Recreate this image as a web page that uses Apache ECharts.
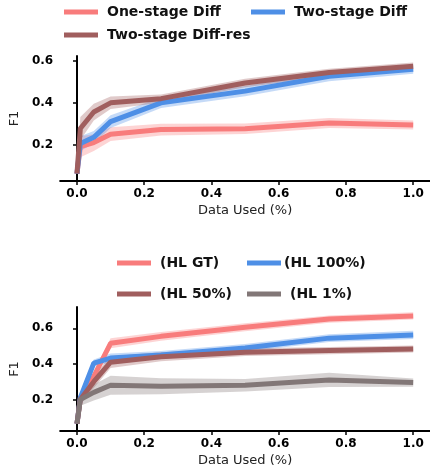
<!DOCTYPE html>
<html><head><meta charset="utf-8">
<script src="https://cdn.jsdelivr.net/npm/echarts@6/dist/echarts.min.js"></script>
<style>html,body{margin:0;padding:0;background:#fff}#c{width:430px;height:468px}</style>
</head><body><div id="c"></div>
<script>
// ---- data ----
const xValues = [0, 0.01, 0.05, 0.1, 0.25, 0.5, 0.75, 1.0];
const xTicks = [0, 0.2, 0.4, 0.6, 0.8, 1.0];
const yTicks = [0.2, 0.4, 0.6];

// top panel
const oneStage     = [0.061, 0.19, 0.21, 0.25, 0.272, 0.276, 0.303, 0.294];
const oneStageErr  = [0.006, 0.05, 0.04, 0.033, 0.028, 0.025, 0.024, 0.022];
const twoStage     = [0.061, 0.205, 0.235, 0.31, 0.40, 0.456, 0.527, 0.561];
const twoStageErr  = [0.006, 0.035, 0.03, 0.03, 0.025, 0.024, 0.024, 0.022];
const diffRes      = [0.061, 0.277, 0.356, 0.40, 0.42, 0.495, 0.545, 0.575];
const diffResErr   = [0.006, 0.055, 0.04, 0.03, 0.02, 0.02, 0.018, 0.018];

// bottom panel
const hlGT     = [0.064, 0.21, 0.33, 0.516, 0.555, 0.606, 0.652, 0.67];
const hlGTErr  = [0.006, 0.025, 0.025, 0.028, 0.025, 0.022, 0.02, 0.02];
const hl100    = [0.064, 0.21, 0.405, 0.433, 0.45, 0.49, 0.545, 0.563];
const hl100Err = [0.006, 0.02, 0.02, 0.025, 0.022, 0.022, 0.022, 0.023];
const hl50     = [0.064, 0.2, 0.30, 0.41, 0.44, 0.466, 0.475, 0.484];
const hl50Err  = [0.006, 0.03, 0.035, 0.033, 0.025, 0.022, 0.02, 0.02];
const hl1      = [0.064, 0.2, 0.24, 0.28, 0.275, 0.28, 0.31, 0.295];
const hl1Err   = [0.006, 0.035, 0.045, 0.053, 0.045, 0.035, 0.04, 0.023];

const RED = '#F87C7C', BLUE = '#4E8FE6', BROWN = '#A05E5E', GRAY = '#827777';
const FONT = 'DejaVu Sans';

function pairs(arr) { return xValues.map((x, i) => [x, arr[i]]); }

function lineWithBand(name, mean, err, color, gi) {
  const bandData = xValues.map((x, i) => [x, mean[i] - err[i], mean[i] + err[i]]);
  return [
    { type: 'custom', name: name + ' band', xAxisIndex: gi, yAxisIndex: gi,
      data: bandData, silent: true, z: 2, animation: false,
      encode: { x: 0, y: [1, 2] },
      renderItem: function (params, api) {
        if (params.dataIndex !== 0) return null;
        const upper = bandData.map(d => api.coord([d[0], d[2]]));
        const lower = bandData.map(d => api.coord([d[0], d[1]])).reverse();
        return { type: 'polygon', shape: { points: upper.concat(lower) },
          style: { fill: color, opacity: 0.33 } };
      } },
    { type: 'line', name: name, xAxisIndex: gi, yAxisIndex: gi, data: pairs(mean),
      symbol: 'none', lineStyle: { color: color, width: 5 }, itemStyle: { color: color },
      z: 3, animation: false }
  ];
}

function xAxis(gi) {
  return { type: 'value', gridIndex: gi, min: -0.05, max: 1.05,
    name: 'Data Used (%)', nameLocation: 'middle', nameGap: 23,
    nameTextStyle: { fontFamily: FONT, fontSize: 13, color: '#222' },
    axisLine: { lineStyle: { color: '#000', width: 2 } },
    axisTick: { show: true, length: 4, lineStyle: { color: '#000', width: 1.5 }, customValues: xTicks },
    axisLabel: { customValues: xTicks, formatter: v => v.toFixed(1), margin: 7,
      fontFamily: FONT, fontWeight: 'bold', fontSize: 12, color: '#000' },
    splitLine: { show: false } };
}
function yAxis(gi, min, max) {
  return { type: 'value', gridIndex: gi, min: min, max: max,
    name: 'F1', nameLocation: 'middle', nameGap: 37, nameRotate: 90,
    nameTextStyle: { fontFamily: FONT, fontSize: 13, color: '#222' },
    axisLine: { show: true, lineStyle: { color: '#000', width: 2 } },
    axisTick: { show: true, length: 4, lineStyle: { color: '#000', width: 1.5 }, customValues: yTicks },
    axisLabel: { customValues: yTicks, formatter: v => v.toFixed(1), margin: 7,
      fontFamily: FONT, fontWeight: 'bold', fontSize: 12, color: '#000' },
    splitLine: { show: false } };
}

function legendItem(name, left, top, textPad) {
  return { data: [name], left: left, top: top, icon: 'rect', itemWidth: 34, itemHeight: 5,
    padding: 0, selectedMode: false,
    textStyle: { fontFamily: FONT, fontWeight: 'bold', fontSize: 14, color: '#111',
      padding: [0, 0, 0, textPad === undefined ? 4 : textPad] } };
}

const series = [].concat(
  lineWithBand('One-stage Diff', oneStage, oneStageErr, RED, 0),
  lineWithBand('Two-stage Diff', twoStage, twoStageErr, BLUE, 0),
  lineWithBand('Two-stage Diff-res', diffRes, diffResErr, BROWN, 0),
  lineWithBand('(HL GT)', hlGT, hlGTErr, RED, 1),
  lineWithBand('(HL 100%)', hl100, hl100Err, BLUE, 1),
  lineWithBand('(HL 50%)', hl50, hl50Err, BROWN, 1),
  lineWithBand('(HL 1%)', hl1, hl1Err, GRAY, 1)
);

const chart = echarts.init(document.getElementById('c'), null, { renderer: 'canvas' });
chart.setOption({
  animation: false,
  backgroundColor: '#fff',
  grid: [
    { left: 55, top: 56, width: 375, height: 125 },
    { left: 55, top: 307, width: 375, height: 125 }
  ],
  xAxis: [xAxis(0), xAxis(1)],
  yAxis: [yAxis(0, 0.026, 0.624), yAxis(1, 0.023, 0.72)],
  legend: [
    legendItem('One-stage Diff', 64, 5),
    legendItem('Two-stage Diff', 251, 5),
    legendItem('Two-stage Diff-res', 64, 28),
    legendItem('(HL GT)', 117, 256),
    legendItem('(HL 100%)', 247, 256, -2),
    legendItem('(HL 50%)', 117, 287),
    legendItem('(HL 1%)', 247, 287)
  ],
  series: series
});
</script></body></html>
